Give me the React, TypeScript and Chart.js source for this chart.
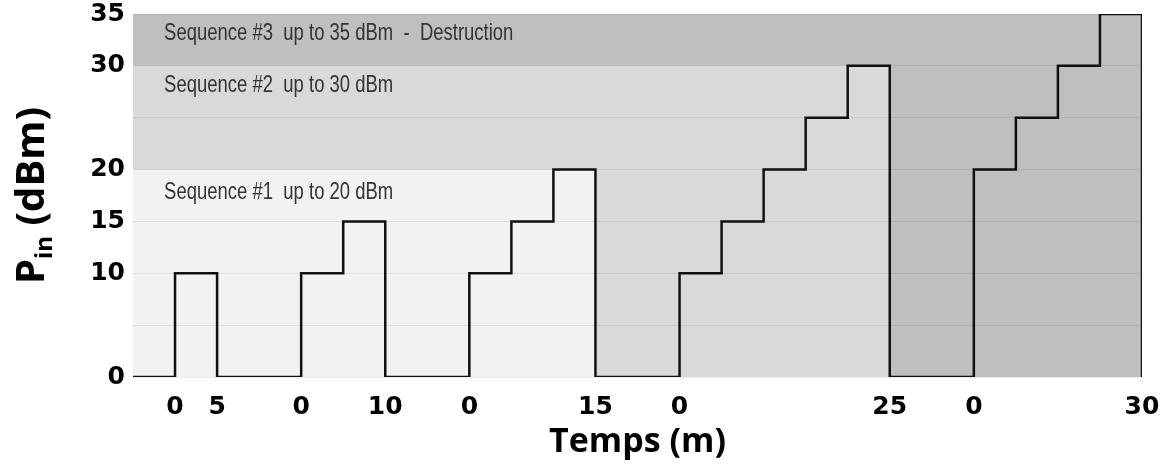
import React, { useEffect, useRef } from 'react';
import { Chart, registerables } from 'chart.js';

Chart.register(...registerables);

// ---- Data ----
const times = [0, 5, 10, 20, 25, 30, 40, 45, 50, 55, 65, 70, 75, 80, 85, 90, 100, 105, 110, 115, 120];
const powerDbm = [0, 10, 0, 10, 15, 0, 10, 15, 20, 0, 10, 15, 20, 25, 30, 0, 20, 25, 30, 35, 0];

const bandEnds = [55, 90, 120];
const bandLevels = [20, 30, 35];
const bandLabels = [
  'Sequence #1  up to 20 dBm',
  'Sequence #2  up to 30 dBm',
  'Sequence #3  up to 35 dBm  -  Destruction',
];

const xTickValues = [5, 10, 20, 30, 40, 55, 65, 90, 100, 120];
const xTickLabels = ['0', '5', '0', '10', '0', '15', '0', '25', '0', '30'];
const yTickValues = [0, 5, 10, 15, 20, 25, 30, 35];
const yTickLabels = ['0', '', '10', '15', '20', '', '30', '35'];

// ---- Styles / layout ----
const bandColors = ['#f2f2f2', '#d9d9d9', '#bfbfbf'];
const LABEL_X = 3.7;
const LABEL_Y = [17.15, 27.5, 32.5];
const TICK_FONT = { family: '"DejaVu Sans", sans-serif', size: 25, weight: 'bold' as const };

const textPlugin = {
  id: 'textPlugin',
  afterDatasetsDraw(chart: any) {
    const { ctx, scales } = chart;
    const x = scales.x, y = scales.y;
    ctx.save();
    ctx.fillStyle = '#333333';
    ctx.font = '24px "Liberation Sans", Arial, sans-serif';
    ctx.textBaseline = 'alphabetic';
    ctx.textAlign = 'left';
    bandLabels.forEach((txt, i) => {
      const px = x.getPixelForValue(LABEL_X);
      const py = y.getPixelForValue(LABEL_Y[i]);
      ctx.save();
      ctx.translate(px, py);
      ctx.scale(0.77, 1);
      ctx.fillText(txt, 0, 0);
      ctx.restore();
    });
    ctx.restore();
  },
  afterDraw(chart: any) {
    const { ctx, chartArea: ca } = chart;
    ctx.save();
    ctx.fillStyle = '#000';
    // X title
    ctx.font = 'bold 34px "Open Sans", sans-serif';
    ctx.textAlign = 'center';
    ctx.textBaseline = 'alphabetic';
    ctx.fillText('Temps (m)', (ca.left + ca.right) / 2, ca.bottom + 75);
    // Y title with subscript
    const mainFont = 'bold 40px "Open Sans", sans-serif';
    const subFont = 'bold 24px "Open Sans", sans-serif';
    ctx.font = mainFont;
    const wP = ctx.measureText('P').width;
    const wRest = ctx.measureText(' (dBm)').width;
    ctx.font = subFont;
    const wSub = ctx.measureText('in').width;
    const total = wP + wSub + wRest;
    ctx.translate(ca.left - 89, (ca.top + ca.bottom) / 2);
    ctx.rotate(-Math.PI / 2);
    ctx.textAlign = 'left';
    let s = -total / 2;
    ctx.font = mainFont;
    ctx.fillText('P', s, 0);
    s += wP;
    ctx.font = subFont;
    ctx.fillText('in', s, 8);
    s += wSub;
    ctx.font = mainFont;
    ctx.fillText(' (dBm)', s, 0);
    ctx.restore();
  },
};

export default function App() {
  const canvasRef = useRef<HTMLCanvasElement | null>(null);

  useEffect(() => {
    if (!canvasRef.current) return;
    const bandDatasets = bandLevels.map((lvl, i) => ({
      label: bandLabels[i],
      data: [
        { x: 0, y: lvl },
        { x: bandEnds[i], y: lvl },
      ],
      fill: 'origin',
      backgroundColor: bandColors[i],
      borderWidth: 0,
      borderColor: 'rgba(0,0,0,0)',
      pointRadius: 0,
      order: i + 1,
    }));
    const chart = new Chart(canvasRef.current, {
      type: 'line',
      data: {
        datasets: [
          {
            label: 'Pin',
            data: times.map((t, i) => ({ x: t, y: powerDbm[i] })),
            stepped: 'before',
            borderColor: '#111111',
            borderWidth: 2.5,
            pointRadius: 0,
            fill: false,
            order: 0,
          },
          ...bandDatasets,
        ] as any,
      },
      options: {
        animation: false,
        responsive: true,
        maintainAspectRatio: false,
        layout: { padding: { left: 0, right: 20, top: 14, bottom: 0 } },
        plugins: { legend: { display: false }, tooltip: { enabled: false } },
        scales: {
          x: {
            type: 'linear',
            min: 0,
            max: 120,
            grid: { display: false },
            border: { display: false },
            afterBuildTicks: (s: any) => {
              s.ticks = xTickValues.map((v) => ({ value: v }));
            },
            afterFit: (s: any) => {
              s.height = 95;
              s.paddingLeft = 0;
              s.paddingRight = 0;
            },
            ticks: {
              autoSkip: false,
              maxRotation: 0,
              padding: 7,
              color: '#000',
              font: TICK_FONT,
              callback: (v: any) => {
                const i = xTickValues.indexOf(Number(v));
                return i >= 0 ? xTickLabels[i] : '';
              },
            },
          },
          y: {
            type: 'linear',
            min: 0,
            max: 35,
            afterBuildTicks: (s: any) => {
              s.ticks = yTickValues.map((v) => ({ value: v }));
            },
            afterFit: (s: any) => {
              s.width = 133;
              s.paddingTop = 0;
              s.paddingBottom = 0;
            },
            grid: { color: 'rgba(0,0,0,0.07)', drawTicks: false, z: 1 } as any,
            border: { display: false },
            ticks: {
              padding: 8,
              color: '#000',
              font: TICK_FONT,
              callback: (v: any) => {
                const i = yTickValues.indexOf(Number(v));
                return i >= 0 ? yTickLabels[i] : '';
              },
            },
          },
        },
      } as any,
      plugins: [textPlugin],
    });
    return () => chart.destroy();
  }, []);

  return (
    <div style={{ position: 'fixed', left: 0, top: 0, width: 1162, height: 472, background: '#fff' }}>
      <canvas ref={canvasRef} />
    </div>
  );
}
